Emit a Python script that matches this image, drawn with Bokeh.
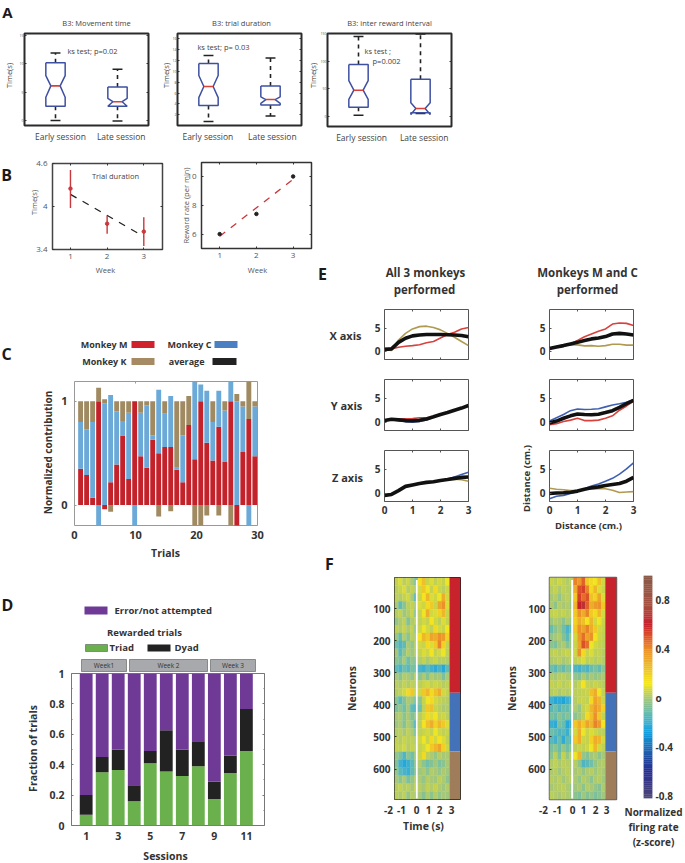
from bokeh.plotting import figure
from bokeh.layouts import row, column
from bokeh.models import Label, LinearAxis, FixedTicker, ColumnDataSource, LinearColorMapper, Spacer
from bokeh.embed import file_html
from bokeh.resources import INLINE

FONT = "Open Sans"

# ---------- DATA ----------
# A: box plots: cap_hi, q3, notch_hi, median, notch_lo, q1, cap_lo
a_titles = ["B3: Movement time", "B3: trial duration", "B3: inter reward interval"]
a_categories = ["Early session", "Late session"]
a1_early = [11.9, 10.2, 7.9, 6.1, 4.1, 2.5, 0.0]
a1_late = [9.05, 5.9, 3.9, 3.3, 2.5, 2.5, -0.1]
a2_early = [12.85, 11.4, 9.2, 7.2, 5.15, 3.7, 0.8]
a2_late = [12.4, 7.3, 5.3, 4.8, 4.1, 3.8, 1.8]
a3_early = [144.6, 94, 65, 47.6, 31, 17, 2.4]
a3_late = [149, 67.5, 25, 14.5, 3.6, 7, 5.4]
a1_yticks = [0, 5, 10, 15]
a2_yticks = [2, 4, 6, 8, 10, 12, 14, 16]
a3_yticks = [0, 50, 100, 150]

# B
weeks = [1, 2, 3]
trial_mean = [4.25, 3.76, 3.65]
trial_hi = [4.51, 3.87, 3.85]
trial_lo = [3.98, 3.62, 3.45]
trial_fit = [4.17, 3.58]
reward_rate = [6.0, 7.4, 10.0]
reward_fit = [5.85, 9.8]

# C: signed contributions per trial
monkey_m = [.35, .29, .07, 1.0, -.04, .22, .39, .67, .25, 1.0, .47, .36, .63, .50, .56, .56, .34, .22, .77, .44, 1.0, .60, .43, .755, .42, 1.0, -.25, .51, .83, .47]
monkey_c = [.45, .44, .73, -.25, .98, .84, .51, .14, .64, -.22, .42, .60, .04, .61, .32, .49, .02, .45, 0, .80, .16, .50, .37, .345, .49, .25, 1.0, .44, -.25, .48]
monkey_k = [.20, .27, .20, .13, .04, -.065, .10, .19, .11, 0, .11, .04, .33, -.11, .12, -.06, .64, .33, .28, -.25, -.25, -.10, .20, -.10, .09, -.25, .07, .05, .42, .05]

# D
sessions = [1, 2, 3, 4, 5, 6, 7, 8, 9, 10, 11]
triad = [.07, .35, .365, .16, .41, .355, .325, .39, .175, .345, .49]
triad_plus_dyad = [.20, .45, .50, .265, .49, .627, .50, .555, .29, .46, .767]
week_names = ["Week1", "Week 2", "Week 3"]

# E: curves sampled along distance
e_x = [0, .25, .5, .75, 1, 1.25, 1.5, 1.75, 2, 2.25, 2.5, 2.75, 3]
x1_red = [.7, .5, .85, 1.07, 1.2, 1.4, 1.8, 2.1, 2.85, 3.6, 4.1, 4.8, 5.1]
x1_brown = [.3, .15, 2.4, 3.85, 4.8, 5.3, 5.4, 5.1, 4.6, 3.85, 3.0, 2.1, 1.2]
x1_black = [.35, .5, 1.9, 2.8, 3.3, 3.5, 3.6, 3.6, 3.6, 3.55, 3.5, 3.4, 3.1]
x2_red = [.55, 1.0, 1.2, 1.55, 2.3, 3.1, 3.7, 4.3, 4.8, 5.85, 6.1, 6.0, 5.55]
x2_brown = [.55, .9, 1.2, 1.4, 1.35, 1.15, 1.2, 1.05, 1.2, 1.5, 1.5, 1.3, 1.3]
x2_black = [.55, .9, 1.2, 1.55, 1.9, 2.3, 2.65, 2.85, 3.15, 3.7, 3.85, 3.7, 3.5]
y1_red = [.3, .6, .6, .7, .75, .9, .9, 1.1, 1.6, 2.0, 2.5, 2.95, 3.5]
y1_blue = [.3, .6, .35, .05, -.05, .1, .45, 1.0, 1.6, 2.0, 2.5, 2.95, 3.5]
y1_black = [.3, .6, .45, .3, .25, .35, .65, 1.1, 1.6, 2.0, 2.5, 2.95, 3.5]
y2_blue = [.2, .9, 1.6, 2.4, 2.75, 2.65, 2.7, 2.8, 3.2, 3.6, 3.85, 4.2, 4.7]
y2_red = [-.6, -.35, .1, .4, .8, .3, .3, .4, .8, 1.3, 2.5, 3.4, 4.4]
y2_black = [-.2, .2, .8, 1.3, 1.7, 1.6, 1.55, 1.65, 2.0, 2.4, 3.1, 3.9, 4.6]
z1_blue = [-.5, -.3, .5, 1.4, 1.7, 2.0, 2.25, 2.4, 2.65, 2.9, 3.4, 3.9, 4.4]
z1_brown = [-.5, -.3, .5, 1.4, 1.7, 2.0, 2.25, 2.4, 2.65, 2.8, 2.9, 2.8, 2.5]
z1_black = [-.5, -.3, .5, 1.4, 1.7, 2.0, 2.25, 2.4, 2.65, 2.85, 3.1, 3.3, 3.4]
z2_blue = [-1.2, -.7, -.5, -.1, .3, .9, 1.5, 1.9, 2.5, 3.1, 4.0, 5.1, 6.4]
z2_brown = [1.0, .8, .7, .5, .5, .8, .8, .9, .9, .6, .1, .2, .3]
z2_black = [-.1, 0, .05, .15, .4, .8, 1.1, 1.3, 1.6, 1.8, 2.0, 2.5, 3.3]

# F: coarse reading of the heat maps, in hundredths of a z-score (top row first)
hm_time_ticks = ["-2", "-1", "0", "1", "2", "3"]
hm_neuron_ticks = [100, 200, 300, 400, 500, 600]
group_edges = [3, 362, 545, 695]
hm1 = [
 [12,20,8,15,2,-8,25,32,14,20,10,18,12,22],
 [8,14,20,6,12,4,18,30,22,12,26,14,8,16],
 [10,4,12,18,2,-18,14,24,34,20,16,22,36,18],
 [2,-16,-6,8,12,0,20,16,26,30,14,38,42,20],
 [6,12,-2,4,14,-6,12,22,36,18,20,28,34,14],
 [-4,2,10,-8,4,8,10,18,12,24,16,8,20,12],
 [10,4,14,2,12,-4,16,22,18,10,26,18,14,24],
 [-2,-14,4,-6,8,2,24,34,30,38,36,42,40,28],
 [-12,-20,-16,2,-4,6,18,14,26,20,30,44,28,12],
 [0,-18,-6,6,-2,4,12,20,16,24,12,18,22,10],
 [-6,-10,2,-12,-4,-8,4,12,2,10,14,6,8,4],
 [-16,-22,-12,-18,-10,-14,-22,-26,-18,-24,-28,-22,-30,-16],
 [0,-6,4,2,-4,6,-6,2,-8,4,-2,0,-10,2],
 [8,2,12,4,10,6,8,14,18,10,16,12,6,10],
 [6,10,18,26,30,14,16,30,34,26,32,36,18,12],
 [-6,-18,-8,2,-2,-10,-6,14,22,26,18,12,8,6],
 [-10,-4,-12,0,-16,-22,-12,10,30,32,14,8,2,4],
 [0,4,-6,2,-8,-4,6,18,26,20,24,12,16,8],
 [-2,2,-8,4,-4,-20,8,24,32,36,28,34,30,20],
 [4,8,0,10,2,-10,10,14,18,12,22,16,10,14],
 [12,6,14,8,10,4,16,22,14,26,18,24,20,10],
 [14,10,18,6,12,8,12,18,22,30,34,38,28,16],
 [-4,-10,-20,-6,-12,-2,14,26,8,2,-4,6,0,2],
 [-8,-24,-30,-26,-18,-6,4,-6,-12,-8,-2,-10,-6,0],
 [-4,-18,-22,-26,-16,-8,-2,2,-6,4,0,-4,2,-2],
 [0,-6,2,-10,-4,4,2,-4,6,0,-2,8,2,-6],
 [6,12,4,8,0,10,6,0,10,4,12,2,-2,4],
 [8,2,10,-4,6,2,0,-8,2,-6,4,-4,0,-2],
]
hm2 = [
 [14,8,16,10,4,8,44,40,48,30,26,22,32,16],
 [6,12,2,10,6,0,36,50,52,44,26,34,20,14],
 [0,6,-4,4,8,-2,30,52,46,50,32,28,38,20],
 [2,-6,6,0,4,-4,34,56,60,48,36,40,42,30],
 [10,14,8,12,6,4,30,42,36,44,30,26,34,18],
 [-2,4,0,-6,2,-4,28,36,32,24,34,18,22,14],
 [-14,-6,-2,-12,-22,-16,30,42,38,44,36,30,18,12],
 [-4,0,4,-8,-18,-4,18,40,46,38,42,24,16,10],
 [-6,-10,-2,2,-8,-4,14,38,50,46,22,18,12,8],
 [8,12,6,10,14,4,16,42,26,14,20,10,12,6],
 [2,6,8,0,4,6,10,14,20,8,12,6,10,4],
 [-12,-18,-10,-16,-8,-14,-20,-24,-18,-22,-14,-10,-16,-6],
 [4,0,6,8,2,-2,-4,-8,2,-6,0,-4,-2,2],
 [12,8,14,6,10,12,4,14,24,12,8,14,10,6],
 [6,10,2,8,4,6,8,10,12,14,32,36,22,10],
 [-24,-30,-28,-32,-26,-22,6,12,14,10,26,38,34,14],
 [-18,-12,-20,-14,-16,-10,4,-4,12,18,34,40,36,28],
 [-10,-14,-6,-12,-8,-14,-6,-2,8,26,32,42,30,12],
 [-26,-28,-10,-14,-30,-26,30,36,30,38,34,44,40,24],
 [-12,-16,-20,-18,-26,-10,18,36,22,14,20,16,10,8],
 [-18,-24,-14,-28,-16,-20,30,36,16,12,28,36,34,18],
 [-10,-6,-14,-4,-12,-8,8,14,10,16,22,34,18,10],
 [-6,8,-10,12,-4,6,22,34,-4,-8,-2,2,-6,0],
 [4,10,2,8,6,0,6,-6,-20,-18,-12,-4,2,4],
 [2,6,-2,4,8,0,0,4,-4,2,6,-2,4,0],
 [6,2,8,-2,4,6,2,-4,4,0,-6,2,6,-2],
 [0,4,6,8,2,-4,-2,2,-6,4,0,-4,-8,2],
 [8,4,0,6,2,-2,-6,-10,-2,-8,-4,-10,-6,-2],
]
cbar_ticks = [-0.8, -0.4, 0, 0.4, 0.8]

# ---------- STYLE / LAYOUT HELPERS ----------
RED, BLUE, BROWN = "#c4222a", "#6aa9d8", "#a08a62"
STOPS = [(-.82, (80, 72, 120)), (-.6, (42, 48, 144)), (-.5, (32, 72, 160)), (-.4, (32, 112, 184)),
         (-.28, (16, 160, 224)), (-.2, (63, 176, 208)), (-.1, (112, 191, 168)), (0, (168, 200, 120)),
         (.05, (200, 212, 74)), (.12, (245, 232, 30)), (.25, (238, 192, 42)), (.4, (236, 143, 42)),
         (.5, (224, 88, 42)), (.6, (200, 32, 44)), (.75, (168, 80, 64)), (1.0, (138, 90, 74))]


def colour(v):
    for (a, ca), (b, cb) in zip(STOPS, STOPS[1:]):
        if v <= b:
            t = max(0, (v - a) / (b - a))
            return "#%02x%02x%02x" % tuple(int(round(p + (q - p) * t)) for p, q in zip(ca, cb))
    return "#%02x%02x%02x" % STOPS[-1][1]


def calibrated(v):
    """My readings ran warm against the colour bar: pale cells read as greener than first noted."""
    if v < 0:
        return v * .8
    if v < .2:
        return v * .38
    return .076 + (v - .2) * 1.45


PALETTE = [colour(-.82 + 1.82 * i / 255) for i in range(256)]
MAPPER = LinearColorMapper(palette=PALETTE, low=-.82, high=1.0)


def tile(t, f, x_range, y_range, outline="#333333", outline_w=1.5):
    """A figure covering page box t whose plot frame is page box f."""
    p = figure(width=t[2] - t[0], height=t[3] - t[1], x_range=x_range, y_range=y_range,
               min_border_left=f[0] - t[0], min_border_right=t[2] - f[2],
               min_border_top=f[1] - t[1], min_border_bottom=t[3] - f[3],
               frame_align=False, toolbar_location=None, output_backend="svg",
               background_fill_color=None, border_fill_color=None)
    p.grid.visible = False
    p.outline_line_color = outline
    p.outline_line_width = outline_w
    return p


# titles, axis names, legends and panel letters sit on one transparent page-sized figure in page pixels
PAGE_W, PAGE_H = 685, 863
text_layer = figure(width=PAGE_W, height=PAGE_H, x_range=(0, PAGE_W), y_range=(PAGE_H, 0),
                    min_border=0, frame_align=False, toolbar_location=None, output_backend="svg",
                    x_axis_type=None, y_axis_type=None, background_fill_color=None, border_fill_color=None)
text_layer.outline_line_color = None
text_layer.styles = {"position": "absolute", "left": "0px", "top": "0px", "z-index": "10", "pointer-events": "none"}


def lab(x, y, text, size=9, bold=False, color="#333333", angle=0, align="center"):
    text_layer.add_layout(Label(x=x, y=PAGE_H - y, x_units="screen", y_units="screen", text=text,
                                text_font=FONT, text_font_size=f"{size}px",
                                text_font_style="bold" if bold else "normal", text_color=color,
                                text_align=align, text_baseline="middle", angle=angle, angle_units="deg"))


def style(ax, ticks, minor=None, size=9, bold=False, color="#333333", overrides=None,
          standoff=3, tick_in=2, tick_color="#333333"):
    ax.ticker = FixedTicker(ticks=ticks, minor_ticks=minor or [])
    ax.axis_line_color = None
    ax.major_tick_in = tick_in
    ax.major_tick_out = 0
    ax.minor_tick_in = 1 if minor else 0
    ax.minor_tick_out = 0
    ax.major_tick_line_color = tick_color
    ax.minor_tick_line_color = tick_color
    ax.major_label_text_font = FONT
    ax.major_label_text_font_size = f"{size}px"
    ax.major_label_text_font_style = "bold" if bold else "normal"
    ax.major_label_text_color = color
    ax.major_label_standoff = standoff
    if overrides:
        ax.major_label_overrides = overrides


def mirror(p, side, ticks, minor=None, tick_color="#333333"):
    a = LinearAxis(ticker=FixedTicker(ticks=ticks, minor_ticks=minor or []), axis_line_color=None,
                   major_tick_in=2, major_tick_out=0, minor_tick_in=1 if minor else 0, minor_tick_out=0,
                   major_tick_line_color=tick_color, minor_tick_line_color=tick_color,
                   major_label_text_color=None, major_label_text_font_size="1px", major_label_standoff=0)
    p.add_layout(a, side)


def notched(p, x, v):
    hi, q3, nh, med, nl, q1, lo = v
    w, n, c = .156, .075, .08
    p.segment([x, x], [q3, q1], [x, x], [hi, lo], line_color="#222222", line_width=1.6, line_dash="4 4")
    p.segment([x - c, x - c], [hi, lo], [x + c, x + c], [hi, lo], line_color="#222222", line_width=1.5)
    xs = [x - w, x + w, x + w, x + n, x + w, x + w, x - w, x - w, x - n, x - w, x - w]
    ys = [q3, q3, nh, med, nl, q1, q1, nl, med, nh, q3]
    p.line(xs, ys, line_color="#3e50a2", line_width=1.5)
    p.line([x - n, x + n], [med, med], line_color="#d8403c", line_width=1.6)


# ---------- A ----------
def panel_a(t, f, yr, ticks, early, late, title, tx, ylx, xt, ks):
    p = tile(t, f, (.5, 2.5), yr, outline="#2b2b2b", outline_w=2)
    style(p.yaxis[0], ticks, size=3.5, standoff=1, color="#555555")
    style(p.xaxis[0], xt, size=8.5, standoff=5, tick_in=0, color="#444444",
          overrides={xt[0]: a_categories[0], xt[1]: a_categories[1]})
    mirror(p, "right", ticks)
    notched(p, 1, early)
    notched(p, 2, late)
    lab(tx, 22, title, size=7.5, color="#444444")
    lab(ylx, 75, "Time(s)", size=7.5, color="#444444", angle=90)
    for (x, y, s, al) in ks:
        lab(x, y, s, size=7.5, color="#444444", align=al)
    return p


pa1 = panel_a((0, 0, 163, 148), (24, 33, 148, 125), (-.9, 15.35), a1_yticks, a1_early, a1_late, a_titles[0],
              96, 8, [1.08, 2.06], [(92, 50, "ks test; p=0.02", "center")])
lab(7, 11, "A", size=15, bold=True, color="#1a1a1a")
pa2 = panel_a((163, 0, 316, 148), (177, 33, 301, 125), (.05, 16.9), a2_yticks, a2_early, a2_late, a_titles[1],
              241, 165, [.99, 2.03], [(223, 46, "ks test; p= 0.03", "center")])
pa3 = panel_a((316, 0, 685, 148), (327, 33, 451, 126), (-18, 150), a3_yticks, a3_early, a3_late, a_titles[2],
              389, 312, [1.05, 2.06], [(364, 50, "ks test   ;", "left"), (372, 60, "p=0.002", "left")])

# ---------- B ----------
pb1 = tile((0, 148, 175, 283), (52, 163, 162, 249), (.51, 3.51), (3.4, 4.6), outline="#444444", outline_w=1.5)
style(pb1.xaxis[0], weeks, size=8, standoff=4, color="#555555")
style(pb1.yaxis[0], [3.4, 4.0, 4.6], size=8, standoff=5, color="#555555", overrides={3.4: "3.4", 4.0: "4", 4.6: "4.6"})
mirror(pb1, "above", weeks)
mirror(pb1, "right", [3.4, 4.0, 4.6])
pb1.line([1, 3], trial_fit, line_color="#222222", line_width=1.3, line_dash="7 7")
pb1.segment(weeks, trial_lo, weeks, trial_hi, line_color="#c8383c", line_width=1.4)
pb1.scatter(weeks, trial_mean, size=3.5, color="#c8383c")
lab(115, 175, "Trial duration", size=7.5, color="#444444")
lab(33, 202, "Time(s)", size=7.5, color="#555555", angle=90)
lab(105, 269, "Week", size=7.5, color="#555555")
lab(6, 174, "B", size=16, bold=True, color="#1a1a1a")

pb2 = tile((175, 148, 314, 283), (201, 162, 311, 248), (.505, 3.5), (5.0, 10.97), outline="#333333", outline_w=1.5)
style(pb2.xaxis[0], weeks, size=8, standoff=4, color="#555555")
style(pb2.yaxis[0], [6, 8, 10], size=8, standoff=5, color="#555555")
mirror(pb2, "above", weeks)
mirror(pb2, "right", [6, 8, 10])
pb2.line([1, 3], reward_fit, line_color="#c8383c", line_width=1.3, line_dash="7 7")
pb2.scatter(weeks, reward_rate, size=3.5, color="#222222")
lab(185, 205, "Reward rate (per min)", size=7.5, color="#555555", angle=90)
lab(257, 269, "Week", size=7.5, color="#555555")

# ---------- C ----------
lab(6, 353, "C", size=16, bold=True, color="#1a1a1a")
for txt, rx, y, sw, col in [("Monkey M", 127, 344, (131, 154), "#d0222c"), ("Monkey C", 211, 344, (214, 237), "#4a7fc4"),
                            ("Monkey K", 126, 361, (131, 154), "#a58a63"), ("average", 204, 361, (212, 236), "#222222")]:
    lab(rx, y, txt, size=9, bold=True, align="right")
    text_layer.quad(left=sw[0], right=sw[1], top=y - 3.5, bottom=y + 3.5, fill_color=col, line_color=None)

pc = tile((0, 372, 314, 568), (74, 381, 257, 525), (0, 30), (-.197, 1.19), outline="#999999", outline_w=1)
style(pc.xaxis[0], [0, 10, 20, 30], size=11, bold=True, standoff=5, tick_in=0)
style(pc.yaxis[0], [0, 1], size=11, bold=True, standoff=7, tick_in=2, tick_color="#999999")
mirror(pc, "above", [10, 20], tick_color="#999999")
trial_pos = [1 + .985 * i for i in range(len(monkey_m))]
pos = [0.0] * len(trial_pos)
neg = [0.0] * len(trial_pos)
for vals, col in [(monkey_m, RED), (monkey_c, BLUE), (monkey_k, BROWN)]:
    b, tp = [], []
    for i, v in enumerate(vals):
        if v >= 0:
            b.append(pos[i]); tp.append(pos[i] + v); pos[i] += v
        else:
            b.append(neg[i]); tp.append(neg[i] + v); neg[i] += v
    pc.vbar(x=trial_pos, bottom=b, top=tp, width=.8, fill_color=col, line_color=None)
lab(47, 452, "Normalized contribution", size=10, bold=True, angle=90)
lab(165, 552, "Trials", size=10.5, bold=True)

# ---------- D ----------
lab(7, 604, "D", size=16, bold=True, color="#1a1a1a")
text_layer.quad(left=84, right=107, top=606, bottom=614, fill_color="#6f3a96", line_color=None)
lab(114, 610, "Error/not attempted", size=9.5, bold=True, align="left")
lab(144, 632, "Rewarded trials", size=9.5, bold=True)
text_layer.quad(left=85, right=107, top=644, bottom=651, fill_color="#6ab04c", line_color="#444444", line_width=.5)
lab(109, 647, "Triad", size=9.5, bold=True, align="left")
text_layer.quad(left=147, right=170, top=644, bottom=651, fill_color="#222222", line_color=None)
lab(174, 647, "Dyad", size=9.5, bold=True, align="left")
for name, (l, r) in zip(week_names, [(81, 126), (129, 207), (210, 255)]):
    text_layer.quad(left=l, right=r, top=659, bottom=671, fill_color="#a7a9ac", line_color="#555555", line_width=.6)
    lab((l + r) / 2, 665, name, size=6.5, color="#333333")

pd = tile((0, 655, 314, 863), (71, 673, 264, 825), (.084, 12.13), (0, 1), outline="#777777", outline_w=1)
sess_ticks = [1, 3, 5, 7, 9, 11]
frac_ticks = [0, .2, .4, .6, .8, 1]
frac_minor = [.1, .3, .5, .7, .9]
style(pd.xaxis[0], sess_ticks, size=10.5, bold=True, standoff=6, tick_in=0)
style(pd.yaxis[0], frac_ticks, minor=frac_minor, size=10.5, bold=True, standoff=7, tick_color="#777777",
      overrides={0: "0", .2: "0.2", .4: "0.4", .6: "0.6", .8: "0.8", 1: "1"})
mirror(pd, "right", frac_ticks, minor=frac_minor, tick_color="#777777")
pd.vbar(x=sessions, bottom=0, top=triad, width=.8, fill_color="#6ab04c", line_color=None)
pd.vbar(x=sessions, bottom=triad, top=triad_plus_dyad, width=.8, fill_color="#222222", line_color=None)
pd.vbar(x=sessions, bottom=triad_plus_dyad, top=1, width=.8, fill_color="#6f3a96", line_color=None)
lab(32, 748, "Fraction of trials", size=10.5, bold=True, angle=90)
lab(165, 855, "Sessions", size=10.5, bold=True)

# ---------- E ----------
lab(322, 273, "E", size=16, bold=True, color="#1a1a1a")
lab(425, 272, "All 3 monkeys", size=11.5, bold=True)
lab(424, 289, "performed", size=11.5, bold=True)
lab(587, 272, "Monkeys M and C", size=11.5, bold=True)
lab(587, 289, "performed", size=11.5, bold=True)

LINE = {"red": "#d8413c", "brown": "#b09a50", "blue": "#3f5fb0", "black": "#111111"}


def panel_e(t, f, series, bottom=False):
    p = tile(t, f, (0, 3), (-1.8, 9), outline="#555555", outline_w=1)
    style(p.yaxis[0], [0, 5], size=10, bold=True, standoff=4, tick_color="#555555")
    style(p.xaxis[0], [0, 1, 2, 3], size=10, bold=True, standoff=4, tick_color="#555555",
          overrides=None if bottom else {0: "", 1: "", 2: "", 3: ""})
    mirror(p, "above", [1, 2], tick_color="#555555")
    for name, vals in series:
        p.line(e_x, vals, line_color=LINE[name], line_width=3.6 if name == "black" else 1.6)
    return p


pe11 = panel_e((314, 306, 515, 372), (384, 309, 468, 359), [("red", x1_red), ("brown", x1_brown), ("black", x1_black)])
pe12 = panel_e((515, 306, 685, 372), (549, 309, 633, 359), [("red", x2_red), ("brown", x2_brown), ("black", x2_black)])
pe21 = panel_e((314, 372, 515, 443), (384, 379, 468, 430), [("red", y1_red), ("blue", y1_blue), ("black", y1_black)])
pe22 = panel_e((515, 372, 685, 443), (549, 379, 633, 430), [("red", y2_red), ("blue", y2_blue), ("black", y2_black)])
pe31 = panel_e((314, 443, 515, 545), (384, 450, 468, 501), [("blue", z1_blue), ("brown", z1_brown), ("black", z1_black)], True)
pe32 = panel_e((515, 443, 685, 545), (549, 450, 633, 501), [("blue", z2_blue), ("brown", z2_brown), ("black", z2_black)], True)
lab(345, 335, "X axis", size=11, bold=True)
lab(346, 405, "Y axis", size=11, bold=True)
lab(347, 477, "Z axis", size=11, bold=True)
lab(526, 478, "Distance (cm.)", size=9.5, bold=True, angle=90)
lab(588, 525, "Distance (cm.)", size=9.5, bold=True)


# ---------- F ----------
def panel_f(t, f, grid, xpos, ylab_x, outline, ow):
    p = tile(t, f, (-2, 3.92), (695, 3), outline=outline, outline_w=ow)
    style(p.yaxis[0], hm_neuron_ticks, size=10, bold=True, standoff=4)
    p.xaxis.visible = False
    nr, nc = len(grid), len(grid[0])
    end = 2.93
    left, right, top, bottom, v = [], [], [], [], []
    for r, rowv in enumerate(grid):
        for c, val in enumerate(rowv):
            left.append(-2 + (end + 2) * c / nc)
            right.append(-2 + (end + 2) * (c + 1) / nc)
            top.append(3 + 692 * r / nr)
            bottom.append(3 + 692 * (r + 1) / nr)
            v.append(calibrated(val / 100))
    src = ColumnDataSource(dict(l=left, r=right, t=top, b=bottom, v=v))
    tr = {"field": "v", "transform": MAPPER}
    p.quad(left="l", right="r", top="t", bottom="b", source=src, fill_color=tr, line_color=tr, line_width=.3)
    p.segment([0], [group_edges[0] + 8], [0], [group_edges[-1] - 3], line_color="white", line_width=1.8)
    for i, col in enumerate(["#c8222c", "#4472b8", "#a07d5a"]):
        p.quad(left=end, right=3.92, top=group_edges[i], bottom=group_edges[i + 1], fill_color=col, line_color=None)
    for s, x in zip(hm_time_ticks, xpos):
        lab(x, 809, s, size=10, bold=True)
    lab(ylab_x, 688, "Neurons", size=10.5, bold=True, angle=90)
    return p


pf1 = panel_f((314, 545, 500, 863), (394, 577, 460, 799), hm1, [388, 401, 416, 428, 439, 451], 351, "#222222", 1)
lab(329, 563, "F", size=16, bold=True, color="#1a1a1a")
lab(423, 825, "Time (s)", size=10.5, bold=True)
pf2 = panel_f((500, 545, 620, 863), (549, 577, 616, 799), hm2, [543, 557, 572, 583, 595, 606], 511, "#666666", 1.5)

pcb = tile((620, 545, 685, 863), (643, 575, 652, 798), (0, 1), (-.82, 1.0), outline=None)
pcb.xaxis.visible = False
pcb.yaxis.visible = False
cbar_edges = [-.82 + 1.82 * i / 120 for i in range(121)]
pcb.quad(left=0, right=1, bottom=cbar_edges[:-1], top=cbar_edges[1:],
         fill_color=[colour((a + b) / 2) for a, b in zip(cbar_edges, cbar_edges[1:])],
         line_color=[colour((a + b) / 2) for a, b in zip(cbar_edges, cbar_edges[1:])], line_width=.3)
cb_axis = LinearAxis()
pcb.add_layout(cb_axis, "right")
style(cb_axis, cbar_ticks, size=10, bold=True, standoff=3, tick_in=0,
      overrides={-.8: "-0.8", -.4: "-0.4", 0: "o", .4: "0.4", .8: "0.8"})
lab(653, 811, "Normalized", size=10, bold=True)
lab(653, 826, "firing rate", size=10, bold=True)
lab(653, 841, "(z-score)", size=10, bold=True)

# ---------- PAGE ----------
left_col = column(row(pb1, pb2, spacing=0), Spacer(width=314, height=89), pc, Spacer(width=314, height=87), pd, spacing=0)
right_col = column(Spacer(width=371, height=158), row(pe11, pe12, spacing=0), row(pe21, pe22, spacing=0),
                   row(pe31, pe32, spacing=0), row(pf1, pf2, pcb, spacing=0), spacing=0)
page = column(text_layer, row(pa1, pa2, pa3, spacing=0), row(left_col, right_col, spacing=0), spacing=0)

open("out.html", "w").write(file_html(page, INLINE))
